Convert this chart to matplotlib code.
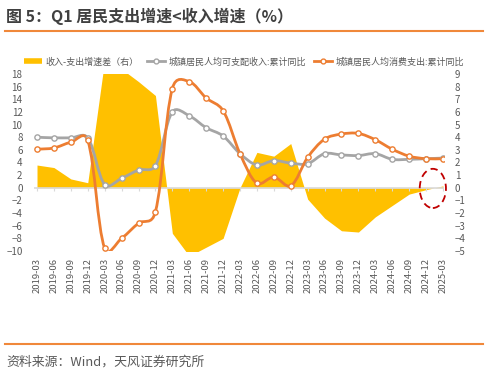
import numpy as np
import matplotlib
matplotlib.use("Agg")
import matplotlib.pyplot as plt
from matplotlib.path import Path
from matplotlib.patches import PathPatch, Ellipse
from matplotlib.lines import Line2D

plt.rcParams['font.family'] = ['Noto Sans CJK SC', 'DejaVu Sans']

# quarterly data
dates = ['2019-03', '2019-06', '2019-09', '2019-12', '2020-03', '2020-06', '2020-09',
         '2020-12', '2021-03', '2021-06', '2021-09', '2021-12', '2022-03', '2022-06',
         '2022-09', '2022-12', '2023-03', '2023-06', '2023-09', '2023-12', '2024-03',
         '2024-06', '2024-09', '2024-12', '2025-03']
income = [8.0, 7.9, 7.9, 7.9, 0.5, 1.5, 2.8, 3.5, 12.0, 11.4, 9.5, 8.2, 5.4, 3.6,
          4.3, 3.9, 3.8, 5.4, 5.2, 5.1, 5.4, 4.5, 4.5, 4.6, 4.7]
spending = [6.1, 6.3, 7.2, 7.5, -9.6, -8.0, -5.6, -3.8, 15.7, 16.8, 14.2, 12.2, 5.4, 0.7,
            1.7, 0.3, 4.8, 7.7, 8.5, 8.6, 7.6, 6.1, 5.0, 4.6, 4.6]
gap = [1.8, 1.6, 0.7, 0.4, 10.1, 9.4, 8.4, 7.3, -3.6, -5.4, -4.7, -4.0, 0.0, 2.8,
       2.5, 3.5, -0.9, -2.4, -3.4, -3.5, -2.3, -1.4, -0.5, -0.15, 0.15]

label_gap = '收入-支出增速差（右）'
label_inc = '城镇居民人均可支配收入:累计同比'
label_spd = '城镇居民人均消费支出:累计同比'

GRAY = '#A5A5A5'
ORANGE = '#ED7D31'
GOLD = '#FFC000'
TXT = '#595959'


# excel-like smoothed line: bezier, tangents half uniform catmull-rom,
# half weighted by on-screen segment length (keeps overshoot small)
def smooth_path(xs, ys, sx, sy, mix=0.5):
    pts = np.column_stack([np.asarray(xs) * sx, np.asarray(ys) * sy]).astype(float)
    n = len(pts)
    verts = [pts[0]]
    codes = [Path.MOVETO]
    for i in range(n - 1):
        p0 = pts[max(i - 1, 0)]
        p1 = pts[i]
        p2 = pts[i + 1]
        p3 = pts[min(i + 2, n - 1)]
        d01 = np.hypot(*(p1 - p0))
        d12 = np.hypot(*(p2 - p1))
        d23 = np.hypot(*(p3 - p2))
        k1 = d12 / (3 * (d01 + d12)) if d01 > 0 else 1 / 3
        k2 = d12 / (3 * (d12 + d23)) if d23 > 0 else 1 / 3
        k1 = mix * k1 + (1 - mix) / 6
        k2 = mix * k2 + (1 - mix) / 6
        c1 = p1 + (p2 - p0) * k1
        c2 = p2 - (p3 - p1) * k2
        verts += [c1, c2, p2]
        codes += [Path.CURVE4] * 3
    verts = np.array(verts) / [sx, sy]
    return Path(verts, codes)


x = np.arange(len(dates))

fig = plt.figure(figsize=(4.88, 3.73), dpi=100)
ax = fig.add_axes([0.0689, 0.3271, 0.8406, 0.4745])
ax2 = ax.twinx()

# area on the right axis
ax2.fill_between(x, 0, gap, color=GOLD, lw=0, zorder=1)
ax2.set_ylim(-5, 9)
ax2.set_yticks(range(-5, 10))

ax.set_xlim(-0.2, len(dates) - 0.95)
ax.set_ylim(-10, 18)

# pixel size of one data unit, for the smoothing
bb = ax.get_position()
sx = bb.width * 488 / (ax.get_xlim()[1] - ax.get_xlim()[0])
sy = bb.height * 373 / (ax.get_ylim()[1] - ax.get_ylim()[0])

# lines on the left axis, drawn above the area
ax.set_zorder(ax2.get_zorder() + 1)
ax.patch.set_visible(False)
ax.axhline(0, color='#D9D9D9', lw=1.2, zorder=1)
ax.vlines(x, -0.55, 0, color='#D9D9D9', lw=0.8, zorder=1)
for vals, col in [(income, GRAY), (spending, ORANGE)]:
    ax.add_patch(PathPatch(smooth_path(x, vals, sx, sy), fill=False, edgecolor=col,
                           lw=2.0, capstyle='round', joinstyle='round', zorder=3))
    ax.plot(x, vals, 'o', ls='none', color=col, mfc='white', mec=col, ms=3.8,
            mew=1.0, zorder=4)

ax.set_yticks(range(-10, 19, 2))
ax.set_xticks(x)
ax.set_xticklabels(dates, rotation=90, ha='center', va='top')

for a in (ax, ax2):
    for s in a.spines.values():
        s.set_visible(False)
ax.tick_params(axis='y', length=0, pad=8, labelsize=7, labelcolor=TXT)
ax.tick_params(axis='x', length=0, pad=5, labelsize=6.8, labelcolor=TXT)
ax2.tick_params(axis='y', length=0, pad=8, labelsize=7, labelcolor=TXT)

# red dashed circle around the latest quarter
ax.add_patch(Ellipse((len(dates) - 1.6, -0.1), 1.55, 6.2, fill=False,
                     edgecolor='#C00000', lw=1.3, ls=(0, (4, 2.5)), zorder=5,
                     clip_on=False))

handles = [
    Line2D([], [], color=GOLD, lw=4, solid_capstyle='butt'),
    Line2D([], [], color=GRAY, lw=2, marker='o', mfc='white', mec=GRAY, ms=3.5, mew=1),
    Line2D([], [], color=ORANGE, lw=2, marker='o', mfc='white', mec=ORANGE, ms=3.5, mew=1),
]
fig.legend(handles, [label_gap, label_inc, label_spd], loc='center',
           bbox_to_anchor=(0.5, 0.834), ncol=3, frameon=False, fontsize=6.5,
           handlelength=2.0, handletextpad=0.4, columnspacing=0.9, numpoints=1,
           labelcolor=TXT)

# title, rules and source
fig.text(0.012, 0.957, '图 5：Q1 居民支出增速<收入增速（%）', fontsize=11.5,
         fontweight='bold', color='#404040', va='center', ha='left')
fig.add_artist(Line2D([0.01, 0.99], [0.917, 0.917], color='#F0883A', lw=1.5))
fig.add_artist(Line2D([0.01, 0.99], [0.077, 0.077], color='#F0883A', lw=1.5))
fig.text(0.012, 0.03, '资料来源：Wind，天风证券研究所', fontsize=9.3, color=TXT,
         va='center', ha='left')

fig.savefig('out.png', dpi=100)
